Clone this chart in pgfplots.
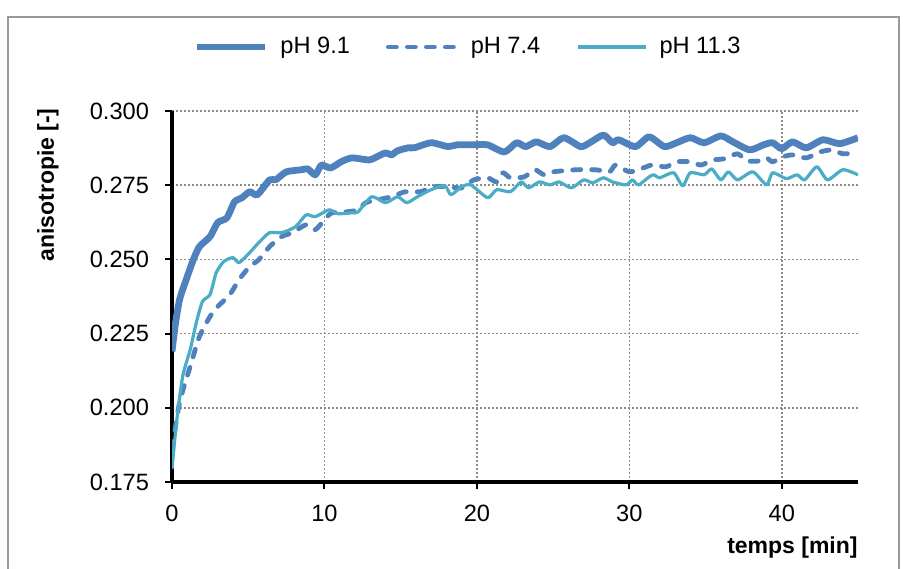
\documentclass[border=0pt]{standalone}
\usepackage{pgfplots}
\pgfplotsset{compat=1.18}
\usepackage{fontspec}
\setmainfont{Liberation Sans}
\definecolor{blueA}{HTML}{4F81BD}
\definecolor{cyanA}{HTML}{4BACC6}
\definecolor{gridc}{HTML}{8C8C8C}
\definecolor{framec}{HTML}{9A9A9A}
\begin{document}
\begin{tikzpicture}
\useasboundingbox (-86pt,-43pt) rectangle (365.5pt,241pt);
\draw[framec, line width=1pt] (-82pt,-60pt) rectangle (363.5pt,232.5pt);
\begin{axis}[
  at={(0,0)}, anchor=south west,
  scale only axis,
  width=343pt, height=185.5pt,
  xmin=0, xmax=45,
  ymin=0.175, ymax=0.300,
  xtick={0,10,20,30,40},
  ytick={0.175,0.200,0.225,0.250,0.275,0.300},
  yticklabel style={xshift=-4.5pt, /pgf/number format/.cd, fixed, fixed zerofill, precision=3},
  xticklabel style={yshift=-4.5pt},
  /pgf/number format/assume math mode=true,
  axis x line*=bottom, axis y line*=left,
  axis line style={line width=2pt, black},
  tick style={line width=1pt, black},
  major tick length=3.5pt, tick align=outside,
  grid=major,
  grid style={gridc, line width=0.8pt, dash pattern=on 0.8pt off 1.2pt},
  tick label style={font=\fontsize{11.8}{13}\selectfont},
  legend columns=3,
  legend style={draw=none, fill=none, at={(0.433,1.1725)}, anchor=center,
    font=\fontsize{11.8}{13}\selectfont,
    /tikz/every odd column/.append style={column sep=4pt},
    /tikz/every even column/.append style={column sep=16pt}},
  legend image code/.code={\draw[#1] (0pt,0pt) -- (34pt,0pt);},
  line join=round,
]
\addplot[blueA, line width=3.4pt, smooth, tension=0.4] coordinates {
  (0,0.219) (0.2,0.2274) (0.5,0.2365) (1.0,0.2442) (1.4,0.2499) (1.8,0.2543)
  (2.5,0.2577) (3.0,0.2624) (3.6,0.264) (4.1,0.2694) (4.6,0.2708) (5.1,0.2728)
  (5.6,0.2718) (6.4,0.2768) (6.8,0.2768) (7.5,0.2795) (8.5,0.2802) (8.9,0.2805)
  (9.4,0.2785) (9.8,0.2818) (10.4,0.2808) (11.1,0.2829) (11.8,0.2842) (12.9,0.2835)
  (13.3,0.2842) (14.0,0.2859) (14.4,0.2852) (14.8,0.2866) (15.5,0.2876) (15.9,0.2876)
  (17.0,0.2893) (18.1,0.288) (18.7,0.2886) (19.8,0.2886) (20.7,0.2886) (21.8,0.2862)
  (22.6,0.2893) (23.2,0.288) (23.9,0.2896) (24.8,0.288) (25.7,0.291) (26.8,0.288)
  (27.4,0.2893) (28.3,0.2919) (28.9,0.2893) (29.3,0.2903) (30.4,0.288) (31.3,0.2913)
  (32.3,0.288) (33.1,0.2893) (34.0,0.291) (34.9,0.2893) (36.0,0.2916) (36.8,0.2896)
  (37.9,0.2869) (38.8,0.2886) (39.4,0.2893) (40.0,0.2873) (40.7,0.2896) (41.6,0.2876)
  (42.7,0.2903) (43.8,0.289) (45,0.291)
};
\addlegendentry{pH 9.1}
\addplot[blueA, line width=2.4pt, line cap=round, dash pattern=on 4pt off 5.5pt, smooth, tension=0.4] coordinates {
  (0,0.186) (0.5,0.2019) (1.2,0.214) (1.8,0.224) (2.5,0.2308) (3.0,0.2341)
  (3.8,0.2382) (4.4,0.2432) (5.1,0.2476) (5.7,0.2499) (6.4,0.2543) (7.2,0.2577)
  (7.9,0.259) (8.8,0.2617) (9.4,0.26) (10.1,0.264) (10.5,0.2657) (11.4,0.266)
  (12.2,0.2667) (12.7,0.2691) (13.5,0.2701) (14.4,0.2711) (15.3,0.2728) (16.3,0.2728)
  (17.2,0.2745) (18.1,0.2745) (19.0,0.2741) (19.8,0.2768) (20.7,0.2775) (21.3,0.2761)
  (21.7,0.2792) (22.2,0.2775) (23.1,0.2778) (23.8,0.2802) (24.4,0.2785) (25.0,0.2795)
  (26.5,0.2802) (27.8,0.2802) (28.7,0.2795) (29.1,0.2818) (30.0,0.2795) (30.9,0.2808)
  (31.5,0.2818) (32.4,0.2812) (33.1,0.2829) (34.0,0.2829) (34.7,0.2818) (35.5,0.2835)
  (36.2,0.2839) (37.1,0.2856) (37.7,0.2832) (38.6,0.2832) (39.0,0.2842) (39.4,0.2829)
  (40.1,0.2846) (40.7,0.2852) (41.6,0.2842) (42.5,0.2862) (43.3,0.2869) (44.0,0.2856)
  (45,0.2859)
};
\addlegendentry{pH 7.4}
\addplot[cyanA, line width=1.6pt, smooth, tension=0.4] coordinates {
  (0,0.1794) (0.3,0.1952) (0.7,0.2106) (1.2,0.2197) (1.6,0.2288) (2.0,0.2358)
  (2.5,0.2382) (2.9,0.2455) (3.4,0.2493) (4.0,0.2506) (4.4,0.2489) (5.1,0.2523)
  (5.7,0.2557) (6.4,0.259) (7.2,0.259) (8.1,0.261) (8.8,0.265) (9.4,0.2644)
  (10.3,0.2667) (10.9,0.2654) (11.8,0.2657) (12.2,0.266) (13.1,0.2711) (14.0,0.2691)
  (14.8,0.2711) (15.4,0.2691) (16.1,0.2711) (17.0,0.2735) (17.9,0.2748) (18.3,0.2718)
  (19.0,0.2745) (19.6,0.2751) (20.7,0.2708) (21.3,0.2735) (22.2,0.2728) (22.9,0.2761)
  (23.4,0.2741) (24.1,0.2761) (24.8,0.2751) (25.4,0.2761) (26.2,0.2741) (27.0,0.2768)
  (27.6,0.2758) (28.3,0.2775) (28.9,0.2761) (29.8,0.2751) (30.2,0.2768) (30.6,0.2751)
  (31.3,0.2778) (31.6,0.2785) (32.0,0.2775) (32.9,0.2792) (33.5,0.2748) (34.0,0.2792)
  (34.9,0.2785) (35.4,0.2805) (36.0,0.2768) (36.5,0.2795) (37.1,0.2768) (38.1,0.2795)
  (39.0,0.2751) (39.4,0.2792) (40.3,0.2772) (41.0,0.2785) (41.5,0.2768) (42.3,0.2812)
  (43.0,0.2768) (44.0,0.2802) (45,0.2785)
};
\addlegendentry{pH 11.3}
\end{axis}
\node[rotate=90, font=\fontsize{11.5}{13}\selectfont\bfseries] at (-62pt,148.5pt) {anisotropie [-]};
\node[anchor=east, inner sep=0pt, font=\fontsize{11.5}{13}\selectfont\bfseries] at (343pt,-33pt) {temps [min]};
\end{tikzpicture}
\end{document}
